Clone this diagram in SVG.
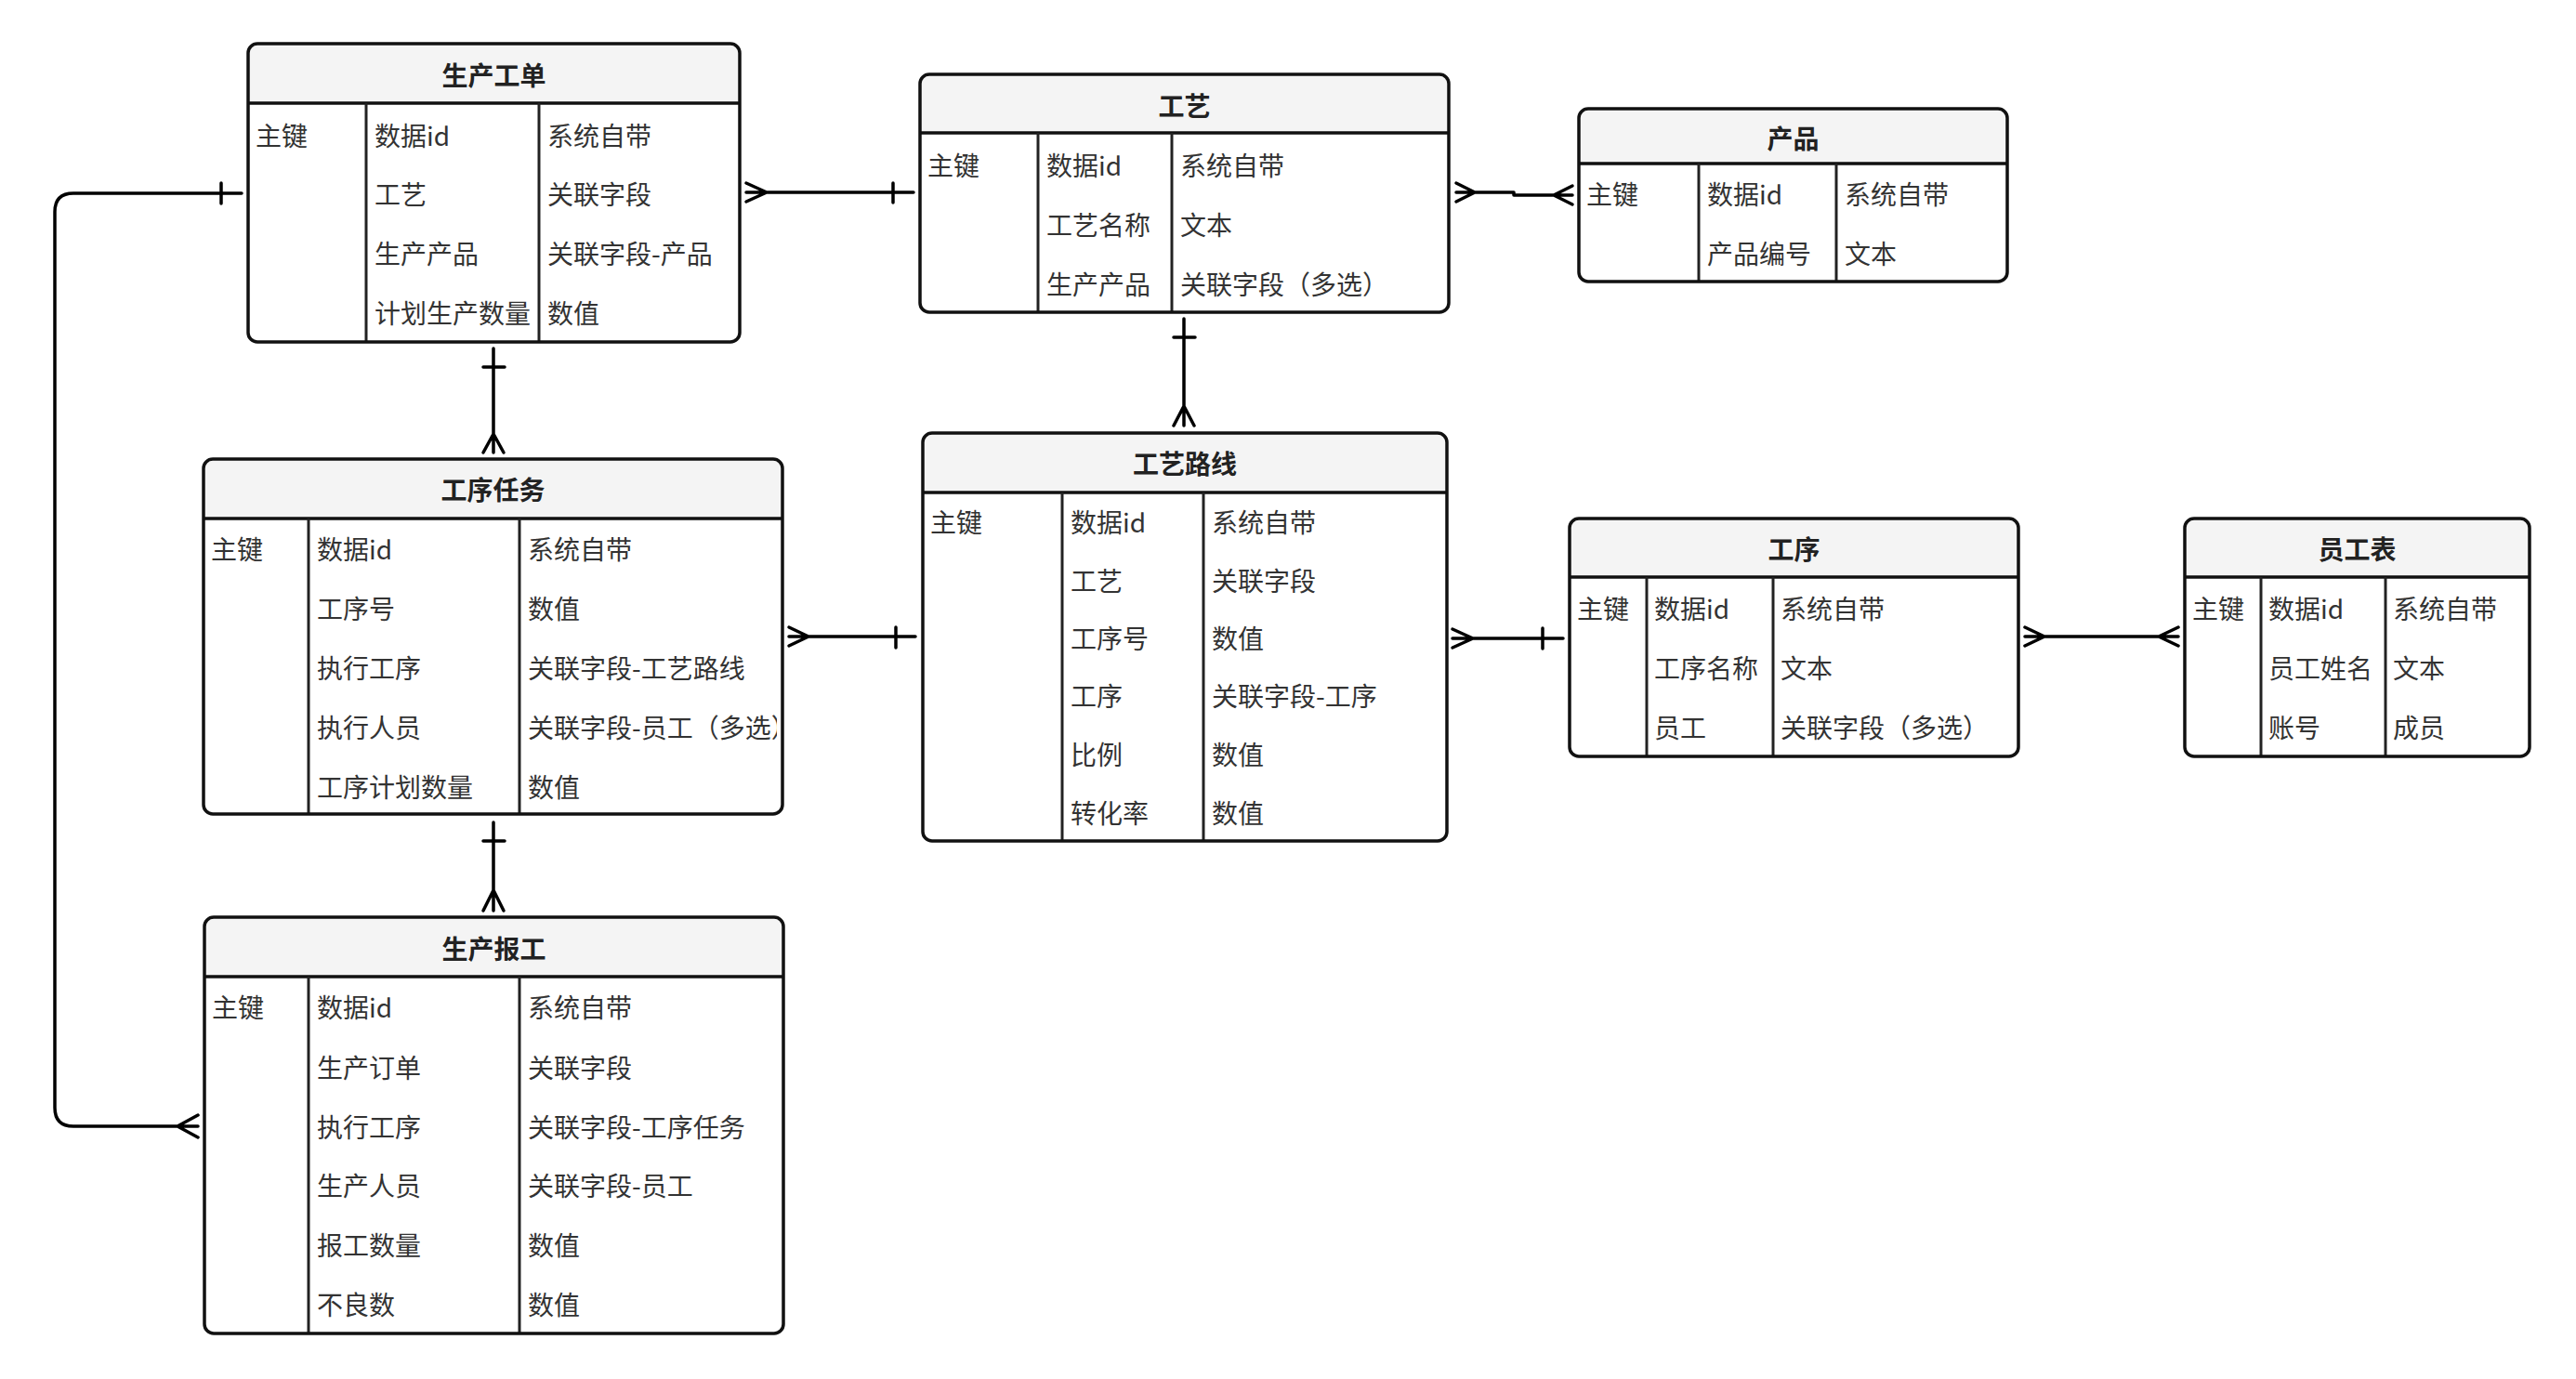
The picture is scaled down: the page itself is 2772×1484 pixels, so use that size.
<svg xmlns="http://www.w3.org/2000/svg" width="2772" height="1484" viewBox="0 0 2772 1484">
<style>
.bg{fill:#ffffff}
.box{fill:none;stroke:#111;stroke-width:3.5}
.hdr{fill:#f4f4f4}
.div{stroke:#111;stroke-width:3.5;fill:none}
.col{stroke:#222;stroke-width:3;fill:none}
.t{font-family:"Noto Sans CJK SC","Noto Sans",sans-serif;font-size:28px;fill:#333;dominant-baseline:central}
.h{font-family:"Noto Sans CJK SC","Noto Sans",sans-serif;font-size:28px;font-weight:bold;fill:#222;text-anchor:middle;dominant-baseline:central}
.c{fill:none;stroke:#000;stroke-width:3.5;stroke-linecap:round;stroke-linejoin:round}
</style>
<defs>
<clipPath id="clipTask"><rect x="219" y="494" width="617" height="382"/></clipPath>
</defs>
<rect class="bg" x="0" y="0" width="2772" height="1484"/>

<g id="connectors">
<!-- 生产工单 -> 工艺 -->
<path class="c" d="M803,207 H983 M803,197 L825,207 L803,217 M961,197 V218"/>
<!-- 工艺 <-> 产品 -->
<path class="c" d="M1567,207 H1629 V210 H1692 M1567,197 L1587,207 L1567,217 M1692,200 L1672,210 L1692,220"/>
<!-- 工艺 -> 工艺路线 -->
<path class="c" d="M1274,343 V458 M1263,363 H1286 M1263,458 L1274,437 L1285,458"/>
<!-- 生产工单 -> 工序任务 -->
<path class="c" d="M531,375 V487 M520,395 H543 M520,487 L531,467 L542,487"/>
<!-- 工序任务 -> 生产报工 -->
<path class="c" d="M531,885 V980 M520,905 H543 M520,980 L531,958 L542,980"/>
<!-- 工序任务 -> 工艺路线 -->
<path class="c" d="M849,685 H985 M849,675 L870,685 L849,695 M964,675 V697"/>
<!-- 工艺路线 -> 工序 -->
<path class="c" d="M1563,687 H1682 M1563,677 L1585,687 L1563,697 M1660,676 V698"/>
<!-- 工序 <-> 员工表 -->
<path class="c" d="M2179,685 H2344 M2179,675 L2200,685 L2179,695 M2344,675 L2323,685 L2344,695"/>
<!-- 生产工单 -> 生产报工 -->
<path class="c" d="M260,208 H79 Q59,208 59,228 V1192 Q59,1212 79,1212 H213 M238,197 V219 M213,1200 L191,1212 L213,1224"/>
</g>

<g id="node-production-order">
<rect x="267" y="47" width="529" height="321" rx="10" fill="#fff"/>
<path class="hdr" d="M267,111 V57 Q267,47 277,47 H786 Q796,47 796,57 V111 Z"/>
<line class="div" x1="267" y1="111" x2="796" y2="111"/>
<line class="col" x1="394" y1="111" x2="394" y2="368"/>
<line class="col" x1="580" y1="111" x2="580" y2="368"/>
<rect class="box" x="267" y="47" width="529" height="321" rx="10"/>
<text class="h" x="531.5" y="80">生产工单</text>
<text class="t" x="275" y="145">主键</text>
<text class="t" x="403" y="145">数据id</text>
<text class="t" x="403" y="208">工艺</text>
<text class="t" x="403" y="272">生产产品</text>
<text class="t" x="403" y="336">计划生产数量</text>
<text class="t" x="589" y="145">系统自带</text>
<text class="t" x="589" y="208">关联字段</text>
<text class="t" x="589" y="272">关联字段-产品</text>
<text class="t" x="589" y="336">数值</text>
</g>

<g id="node-craft">
<rect x="990" y="80" width="569" height="256" rx="10" fill="#fff"/>
<path class="hdr" d="M990,143 V90 Q990,80 1000,80 H1549 Q1559,80 1559,90 V143 Z"/>
<line class="div" x1="990" y1="143" x2="1559" y2="143"/>
<line class="col" x1="1117" y1="143" x2="1117" y2="336"/>
<line class="col" x1="1261" y1="143" x2="1261" y2="336"/>
<rect class="box" x="990" y="80" width="569" height="256" rx="10"/>
<text class="h" x="1274.5" y="113">工艺</text>
<text class="t" x="998" y="177">主键</text>
<text class="t" x="1126" y="177">数据id</text>
<text class="t" x="1126" y="241">工艺名称</text>
<text class="t" x="1126" y="305">生产产品</text>
<text class="t" x="1270" y="177">系统自带</text>
<text class="t" x="1270" y="241">文本</text>
<text class="t" x="1270" y="305">关联字段（多选）</text>
</g>

<g id="node-product">
<rect x="1699" y="117" width="461" height="186" rx="10" fill="#fff"/>
<path class="hdr" d="M1699,176 V127 Q1699,117 1709,117 H2150 Q2160,117 2160,127 V176 Z"/>
<line class="div" x1="1699" y1="176" x2="2160" y2="176"/>
<line class="col" x1="1828" y1="176" x2="1828" y2="303"/>
<line class="col" x1="1976" y1="176" x2="1976" y2="303"/>
<rect class="box" x="1699" y="117" width="461" height="186" rx="10"/>
<text class="h" x="1929.5" y="148">产品</text>
<text class="t" x="1707" y="208">主键</text>
<text class="t" x="1837" y="208">数据id</text>
<text class="t" x="1837" y="272">产品编号</text>
<text class="t" x="1985" y="208">系统自带</text>
<text class="t" x="1985" y="272">文本</text>
</g>

<g id="node-task">
<rect x="219" y="494" width="623" height="382" rx="10" fill="#fff"/>
<path class="hdr" d="M219,558 V504 Q219,494 229,494 H832 Q842,494 842,504 V558 Z"/>
<line class="div" x1="219" y1="558" x2="842" y2="558"/>
<line class="col" x1="332" y1="558" x2="332" y2="876"/>
<line class="col" x1="559" y1="558" x2="559" y2="876"/>
<text class="h" x="530.5" y="526">工序任务</text>
<text class="t" x="227" y="590">主键</text>
<text class="t" x="341" y="590">数据id</text>
<text class="t" x="341" y="654">工序号</text>
<text class="t" x="341" y="718">执行工序</text>
<text class="t" x="341" y="782">执行人员</text>
<text class="t" x="341" y="846">工序计划数量</text>
<g clip-path="url(#clipTask)">
<text class="t" x="568" y="590">系统自带</text>
<text class="t" x="568" y="654">数值</text>
<text class="t" x="568" y="718">关联字段-工艺路线</text>
<text class="t" x="568" y="782">关联字段-员工（多选）</text>
<text class="t" x="568" y="846">数值</text>
</g>
<rect class="box" x="219" y="494" width="623" height="382" rx="10"/>
</g>

<g id="node-route">
<rect x="993" y="466" width="564" height="439" rx="10" fill="#fff"/>
<path class="hdr" d="M993,530 V476 Q993,466 1003,466 H1547 Q1557,466 1557,476 V530 Z"/>
<line class="div" x1="993" y1="530" x2="1557" y2="530"/>
<line class="col" x1="1143" y1="530" x2="1143" y2="905"/>
<line class="col" x1="1295" y1="530" x2="1295" y2="905"/>
<rect class="box" x="993" y="466" width="564" height="439" rx="10"/>
<text class="h" x="1275" y="498">工艺路线</text>
<text class="t" x="1001" y="561">主键</text>
<text class="t" x="1152" y="561">数据id</text>
<text class="t" x="1152" y="624">工艺</text>
<text class="t" x="1152" y="686">工序号</text>
<text class="t" x="1152" y="748">工序</text>
<text class="t" x="1152" y="811">比例</text>
<text class="t" x="1152" y="874">转化率</text>
<text class="t" x="1304" y="561">系统自带</text>
<text class="t" x="1304" y="624">关联字段</text>
<text class="t" x="1304" y="686">数值</text>
<text class="t" x="1304" y="748">关联字段-工序</text>
<text class="t" x="1304" y="811">数值</text>
<text class="t" x="1304" y="874">数值</text>
</g>

<g id="node-process">
<rect x="1689" y="558" width="483" height="256" rx="10" fill="#fff"/>
<path class="hdr" d="M1689,621 V568 Q1689,558 1699,558 H2162 Q2172,558 2172,568 V621 Z"/>
<line class="div" x1="1689" y1="621" x2="2172" y2="621"/>
<line class="col" x1="1772" y1="621" x2="1772" y2="814"/>
<line class="col" x1="1908" y1="621" x2="1908" y2="814"/>
<rect class="box" x="1689" y="558" width="483" height="256" rx="10"/>
<text class="h" x="1930.5" y="590">工序</text>
<text class="t" x="1697" y="654">主键</text>
<text class="t" x="1780" y="654">数据id</text>
<text class="t" x="1780" y="718">工序名称</text>
<text class="t" x="1780" y="782">员工</text>
<text class="t" x="1916" y="654">系统自带</text>
<text class="t" x="1916" y="718">文本</text>
<text class="t" x="1916" y="782">关联字段（多选）</text>
</g>

<g id="node-employee">
<rect x="2351" y="558" width="371" height="256" rx="10" fill="#fff"/>
<path class="hdr" d="M2351,621 V568 Q2351,558 2361,558 H2712 Q2722,558 2722,568 V621 Z"/>
<line class="div" x1="2351" y1="621" x2="2722" y2="621"/>
<line class="col" x1="2433" y1="621" x2="2433" y2="814"/>
<line class="col" x1="2567" y1="621" x2="2567" y2="814"/>
<rect class="box" x="2351" y="558" width="371" height="256" rx="10"/>
<text class="h" x="2536.5" y="590">员工表</text>
<text class="t" x="2359" y="654">主键</text>
<text class="t" x="2441" y="654">数据id</text>
<text class="t" x="2441" y="718">员工姓名</text>
<text class="t" x="2441" y="782">账号</text>
<text class="t" x="2575" y="654">系统自带</text>
<text class="t" x="2575" y="718">文本</text>
<text class="t" x="2575" y="782">成员</text>
</g>

<g id="node-report">
<rect x="220" y="987" width="623" height="448" rx="10" fill="#fff"/>
<path class="hdr" d="M220,1051 V997 Q220,987 230,987 H833 Q843,987 843,997 V1051 Z"/>
<line class="div" x1="220" y1="1051" x2="843" y2="1051"/>
<line class="col" x1="332" y1="1051" x2="332" y2="1435"/>
<line class="col" x1="559" y1="1051" x2="559" y2="1435"/>
<rect class="box" x="220" y="987" width="623" height="448" rx="10"/>
<text class="h" x="531.5" y="1020">生产报工</text>
<text class="t" x="228" y="1083">主键</text>
<text class="t" x="341" y="1083">数据id</text>
<text class="t" x="341" y="1148">生产订单</text>
<text class="t" x="341" y="1212">执行工序</text>
<text class="t" x="341" y="1275">生产人员</text>
<text class="t" x="341" y="1339">报工数量</text>
<text class="t" x="341" y="1403">不良数</text>
<text class="t" x="568" y="1083">系统自带</text>
<text class="t" x="568" y="1148">关联字段</text>
<text class="t" x="568" y="1212">关联字段-工序任务</text>
<text class="t" x="568" y="1275">关联字段-员工</text>
<text class="t" x="568" y="1339">数值</text>
<text class="t" x="568" y="1403">数值</text>
</g>
</svg>
